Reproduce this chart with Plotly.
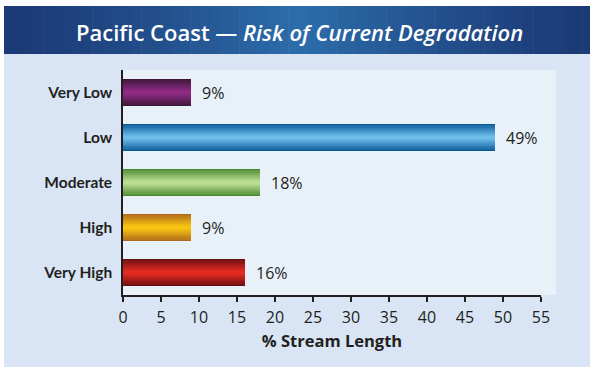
import plotly.graph_objects as go

categories = ["Very Low", "Low", "Moderate", "High", "Very High"]
values = [9, 49, 18, 9, 16]
edge_colors = ["#3c1638", "#0a5a9a", "#4a8a30", "#b0681e", "#6a1010"]
center_colors = ["#8e2a84", "#6cbcec", "#bcdc94", "#f8c410", "#e42a22"]
x_ticks = list(range(0, 60, 5))

W, H = 590, 367
L, R, T, B = 123, 541, 70, 295  # plot area in px


def px(x):
    return (x - L) / (R - L)


def py(y):
    return (B - y) / (B - T)


def hex2rgb(h):
    h = h.lstrip("#")
    return tuple(int(h[i:i + 2], 16) for i in (0, 2, 4))


def mix(c1, c2, t):
    a, b = hex2rgb(c1), hex2rgb(c2)
    return "rgb(%d,%d,%d)" % tuple(round(a[i] + (b[i] - a[i]) * t) for i in range(3))


fig = go.Figure()

BAR_W = 0.59
N = 12
for k in range(N):
    frac = 1 - k / N
    t = (k / (N - 1)) ** 0.8
    fig.add_trace(go.Bar(
        x=values, y=categories, orientation="h",
        width=BAR_W * frac,
        marker=dict(color=[mix(e, c, t) for e, c in zip(edge_colors, center_colors)], line=dict(width=0)),
        hoverinfo="skip", showlegend=False,
    ))

shapes = []
# outer light-blue background
shapes.append(dict(type="rect", xref="paper", yref="paper", x0=px(4), x1=px(W + 2), y0=py(H + 2), y1=py(54),
                   fillcolor="#d9e5f4", line=dict(width=0), layer="below"))
# plot background extends beyond axis end
shapes.append(dict(type="rect", xref="paper", yref="paper", x0=0, x1=px(556), y0=0, y1=1,
                   fillcolor="#e8f0f8", line=dict(width=0), layer="below"))
# title band gradient
S = 60
x_start, x_end = 4, W + 2
for i in range(S):
    xa = x_start + (x_end - x_start) * i / S
    xb = x_start + (x_end - x_start) * (i + 1) / S + 0.6
    c = (xa + xb) / 2
    d = abs(c - 300) / 296
    t = max(0.0, 1 - d) ** 1.3
    shapes.append(dict(type="rect", xref="paper", yref="paper", x0=px(xa), x1=px(xb), y0=py(54), y1=py(6),
                       fillcolor=mix("#1b3a76", "#2c6dab", t), line=dict(width=0), layer="below"))

annotations = []
annotations.append(dict(xref="paper", yref="paper", x=px(299), y=py(32), showarrow=False,
                        text="Pacific Coast — <i>Risk of Current Degradation</i>",
                        font=dict(family="Open Sans", size=22, color="white", weight=600),
                        xanchor="center", yanchor="middle"))
for c, v in zip(categories, values):
    annotations.append(dict(x=v, y=c, xref="x", yref="y", text=f"{v}%", showarrow=False,
                            xanchor="left", yanchor="middle", xshift=9,
                            font=dict(family="Open Sans", size=16, color="#231f20")))

fig.update_layout(
    width=W, height=H,
    margin=dict(l=L, r=W - R, t=T, b=H - B, pad=0),
    paper_bgcolor="white", plot_bgcolor="#e8f0f8",
    barmode="overlay", bargap=0,
    shapes=shapes, annotations=annotations,
    showlegend=False,
)
fig.update_xaxes(
    range=[0, 55], tickvals=x_ticks, ticktext=[str(t) for t in x_ticks],
    showgrid=False, zeroline=False, showline=True, linecolor="#231f20", linewidth=1.5,
    ticks="outside", ticklen=5, tickwidth=1.5, tickcolor="#231f20", ticklabelstandoff=2,
    tickfont=dict(family="Open Sans", size=16, color="#231f20"),
    title=dict(text="% Stream Length", font=dict(family="Open Sans", size=16.5, color="#231f20", weight=700), standoff=8),
)
fig.update_yaxes(
    categoryorder="array", categoryarray=categories, autorange="reversed",
    showgrid=False, zeroline=False, showline=True, linecolor="#231f20", linewidth=1.5,
    ticks="", ticklabelstandoff=6,
    tickfont=dict(family="Lato", size=15.5, color="#231f20", weight=700),
)

fig.write_html("out.html", config={"displayModeBar": False},
               post_script="document.body.style.margin='0';document.body.style.padding='0';")
